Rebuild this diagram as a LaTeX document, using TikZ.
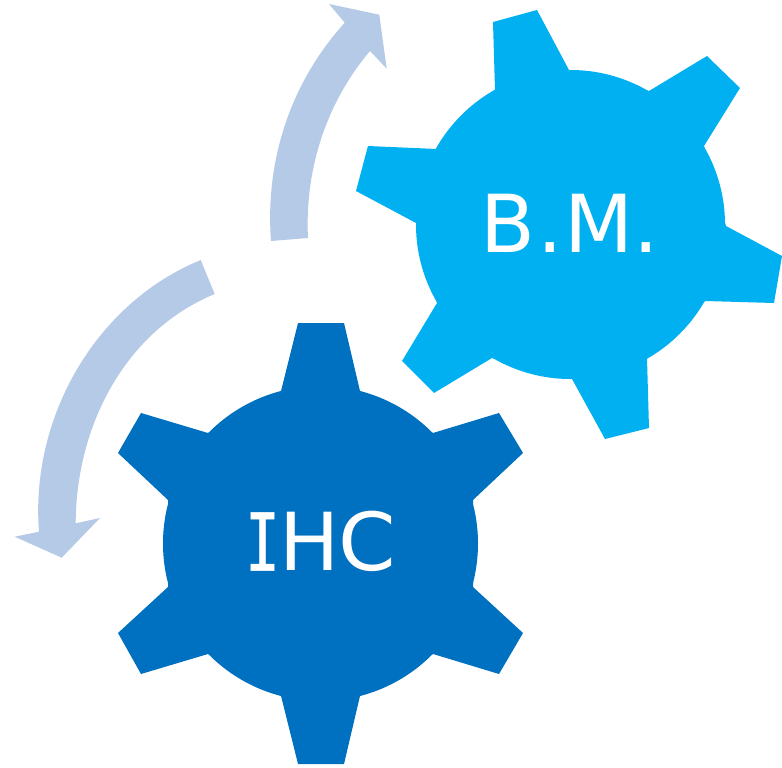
\documentclass[tikz,border=0pt]{standalone}
\usepackage{fontspec}
\setmainfont{DejaVu Sans}
\newfontfamily\serifI[FakeStretch=0.72,FakeBold=0.6]{DejaVu Sans Mono}
\newfontfamily\wideC[FakeStretch=1.03]{DejaVu Sans}
\definecolor{ihcblue}{HTML}{0070C0}
\definecolor{bmblue}{HTML}{00B0F0}
\definecolor{arrowblue}{HTML}{B5CAE7}
\tikzset{
  gearihc/.style={fill=ihcblue,draw=none},
  gearbm/.style={fill=bmblue,draw=none},
  cyclearrow/.style={fill=arrowblue,draw=none},
  gearlabel/.style={text=white,inner sep=0pt,anchor=base west,font=\fontsize{80}{82}\selectfont}
}
\begin{document}
\begin{tikzpicture}[x=1pt,y=-1pt]
\useasboundingbox (0,0) rectangle (782,768);
% upper arrow
\fill[cyclearrow] (329,4) -- (379.3,14.7) -- (386.7,68.7) -- (370,51)
  .. controls (326,103) and (304.6,170) .. (308,238)
  -- (271,241)
  .. controls (265,161) and (290,83.3) .. (344.7,22.7) -- cycle;
% lower arrow
\fill[cyclearrow] (200.7,260) -- (214.7,294)
  .. controls (125,331) and (76,426) .. (75.7,523.3)
  -- (100,518) -- (61.7,557.7) -- (14.7,536.7) -- (39,531.7)
  .. controls (30,417.7) and (95.3,303.3) .. (200.7,260) -- cycle;
% B.M. gear
\fill[gearbm] (570.5,224.5) circle[radius=154.5];
\fill[gearbm] (495,90) -- (493,22) -- (537,10) -- (569,70) -- (649,91) -- (707,56) -- (740,88) -- (704,146)
  -- (726,226) -- (782,256) -- (774,303) -- (705,301) -- (647,358) -- (649,428) -- (605,439) -- (572,379)
  -- (492,358) -- (434,393) -- (402,361) -- (437,303) -- (416,223) -- (356,191) -- (368,146) -- (437,149) -- cycle;
% IHC gear
\fill[gearihc] (320.5,543.5) circle[radius=157.5];
\fill[gearihc] (281,391) -- (298,323) -- (344,323) -- (360,391) -- (433,433) -- (499,413) -- (523,453) -- (473,500)
  -- (473,587) -- (523,633) -- (499,674) -- (433,654) -- (360,696) -- (344,764) -- (298,764) -- (281,696)
  -- (208,654) -- (141,674) -- (118,633) -- (168,587) -- (168,500) -- (118,453) -- (141,413) -- (208,433) -- cycle;
\node[gearlabel] (bmlabel) at (480,252) {B\kern2.5pt.\kern1.1pt M\kern0.2pt.};
\node[gearlabel] (ihclabel) at (245,570.7) {{\serifI I}\kern-0.8pt H\kern-0.6pt{\wideC C}};
\end{tikzpicture}
\end{document}
